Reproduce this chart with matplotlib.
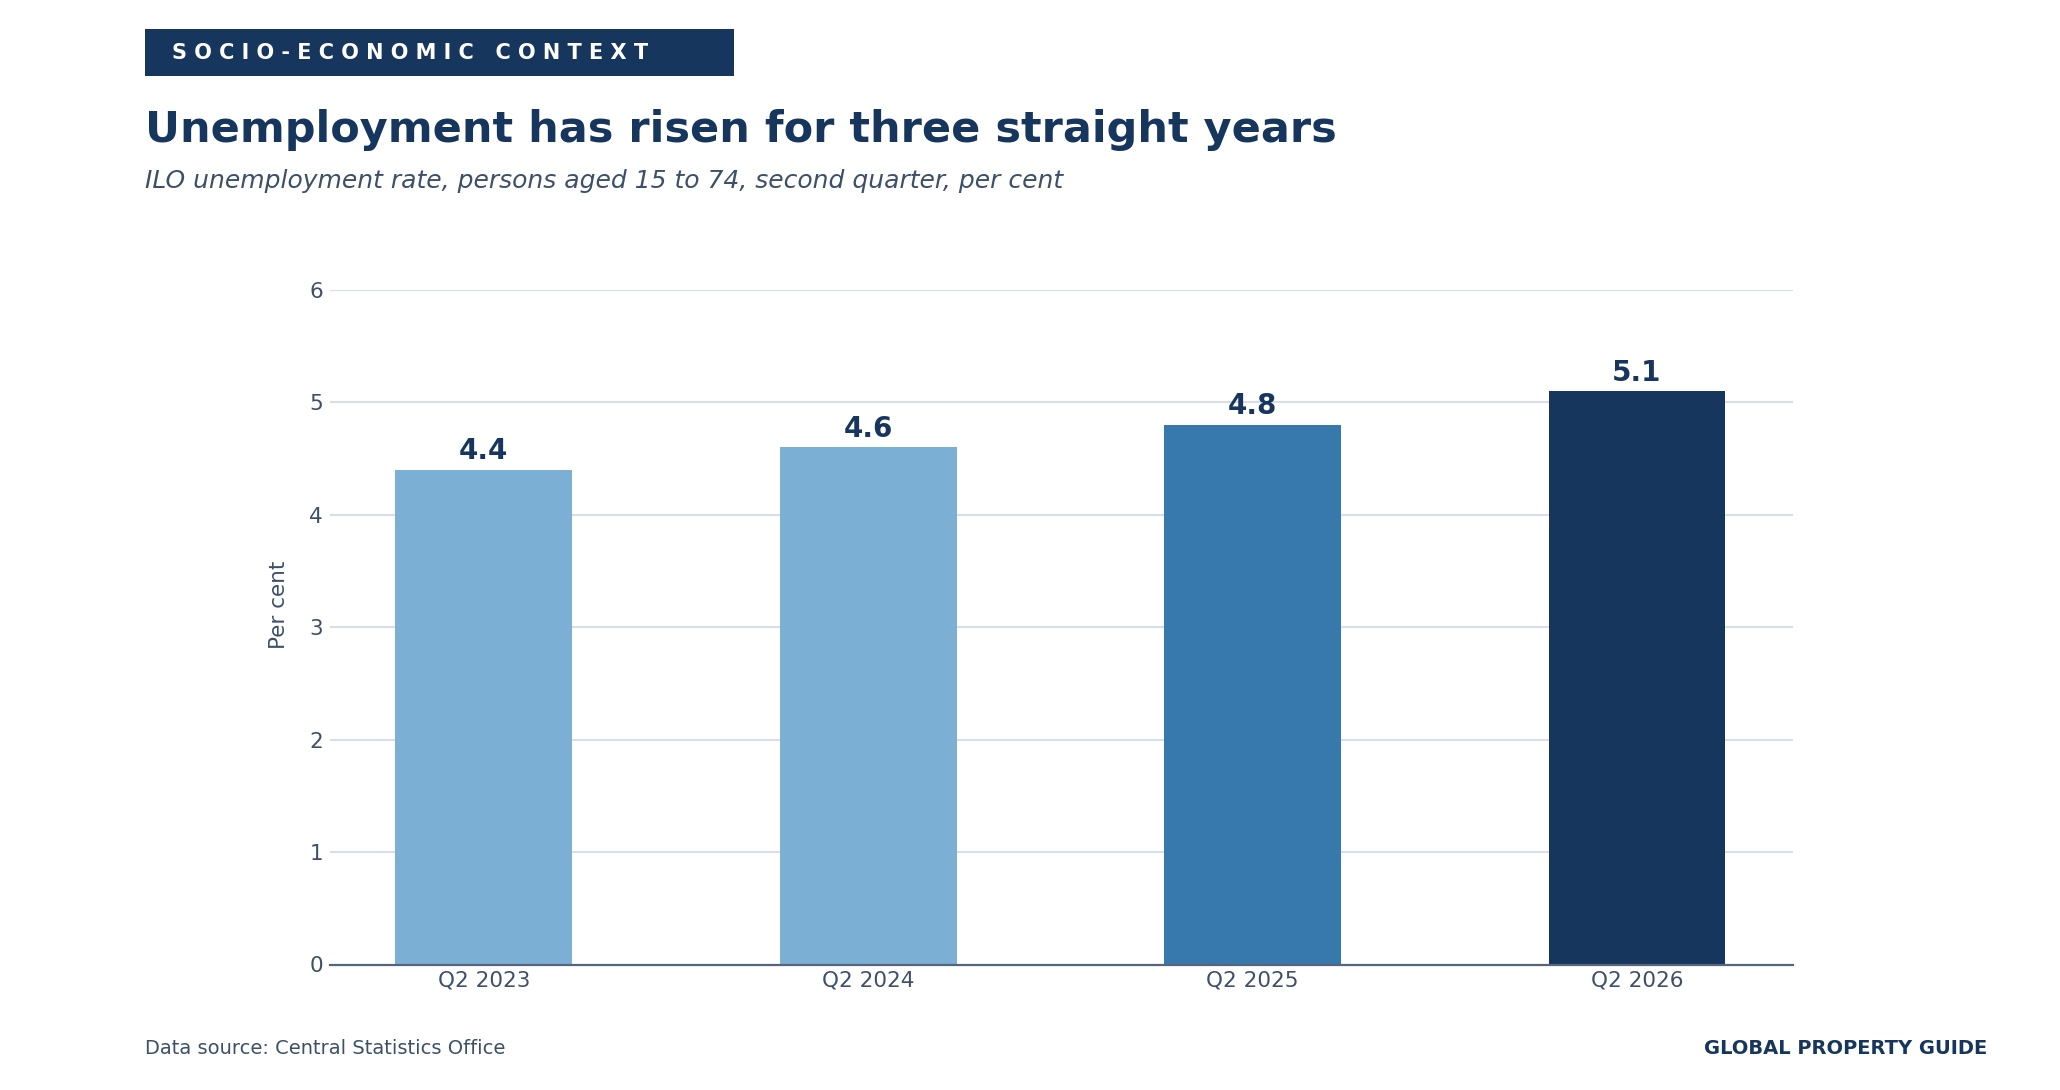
import matplotlib
matplotlib.use("Agg")
import matplotlib.pyplot as plt
from matplotlib.patches import Rectangle

categories = ["Q2 2023", "Q2 2024", "Q2 2025", "Q2 2026"]
values = [4.4, 4.6, 4.8, 5.1]
bar_colors = ["#7bafd4", "#7bafd4", "#3778ad", "#17365d"]
yticks = [0, 1, 2, 3, 4, 5, 6]

NAVY = "#17365d"
SLATE = "#3d5068"
GRID = "#d9dde5"

plt.rcParams['font.family'] = ['DejaVu Sans']

W, H = 2060, 1090
fig = plt.figure(figsize=(W / 100, H / 100), dpi=100)
fig.patch.set_facecolor("white")

ax = fig.add_axes([330 / W, (H - 964.5) / H, (1793 - 330) / W, (964.5 - 290) / H])
x = list(range(len(categories)))
ax.bar(x, values, width=0.46, color=bar_colors, zorder=3)
ax.set_xlim(-0.4, 3.406)
ax.set_ylim(0, 6)
ax.set_yticks(yticks)
ax.set_yticklabels([str(t) for t in yticks])
ax.set_xticks(x)
ax.set_xticklabels(categories)
ax.tick_params(axis='both', length=0, labelsize=15.5, colors=SLATE)
ax.tick_params(axis='y', pad=5)
ax.tick_params(axis='x', pad=4)
ax.grid(axis='y', color=GRID, linewidth=1.5, zorder=0)
ax.set_axisbelow(True)
for s in ["top", "right", "left"]:
    ax.spines[s].set_visible(False)
ax.spines["bottom"].set_color("#56657c")
ax.spines["bottom"].set_linewidth(1.6)
ax.spines["bottom"].set_zorder(4)
ax.set_ylabel("Per cent", fontsize=15.5, color=SLATE)
ax.yaxis.set_label_coords(-0.028, 0.533)

for xi, v in zip(x, values):
    ax.annotate(f"{v:.1f}", xy=(xi, v), xytext=(0, 7.5), textcoords="offset points",
                ha="center", va="baseline", fontsize=20, fontweight="bold", color=NAVY)

# banner
fig.patches.append(Rectangle((145 / W, (H - 76) / H), (734 - 145) / W, 47 / H,
                             transform=fig.transFigure, facecolor=NAVY, edgecolor="none"))
fig.text(172 / W, (H - 59) / H, "S O C I O - E C O N O M I C   C O N T E X T",
         fontsize=15, fontweight="bold", color="white", ha="left", va="baseline")

fig.text(145 / W, (H - 142) / H, "Unemployment has risen for three straight years",
         fontsize=31, fontweight="bold", color=NAVY, ha="left", va="baseline")
fig.text(145 / W, (H - 188) / H, "ILO unemployment rate, persons aged 15 to 74, second quarter, per cent",
         fontsize=18, style="italic", color=SLATE, ha="left", va="baseline")

fig.text(145 / W, (H - 1054) / H, "Data source: Central Statistics Office",
         fontsize=14, color=SLATE, ha="left", va="baseline")
fig.text(1987 / W, (H - 1054) / H, "GLOBAL PROPERTY GUIDE",
         fontsize=14, fontweight="bold", color=NAVY, ha="right", va="baseline")

fig.savefig("out.png", dpi=100, facecolor="white")
